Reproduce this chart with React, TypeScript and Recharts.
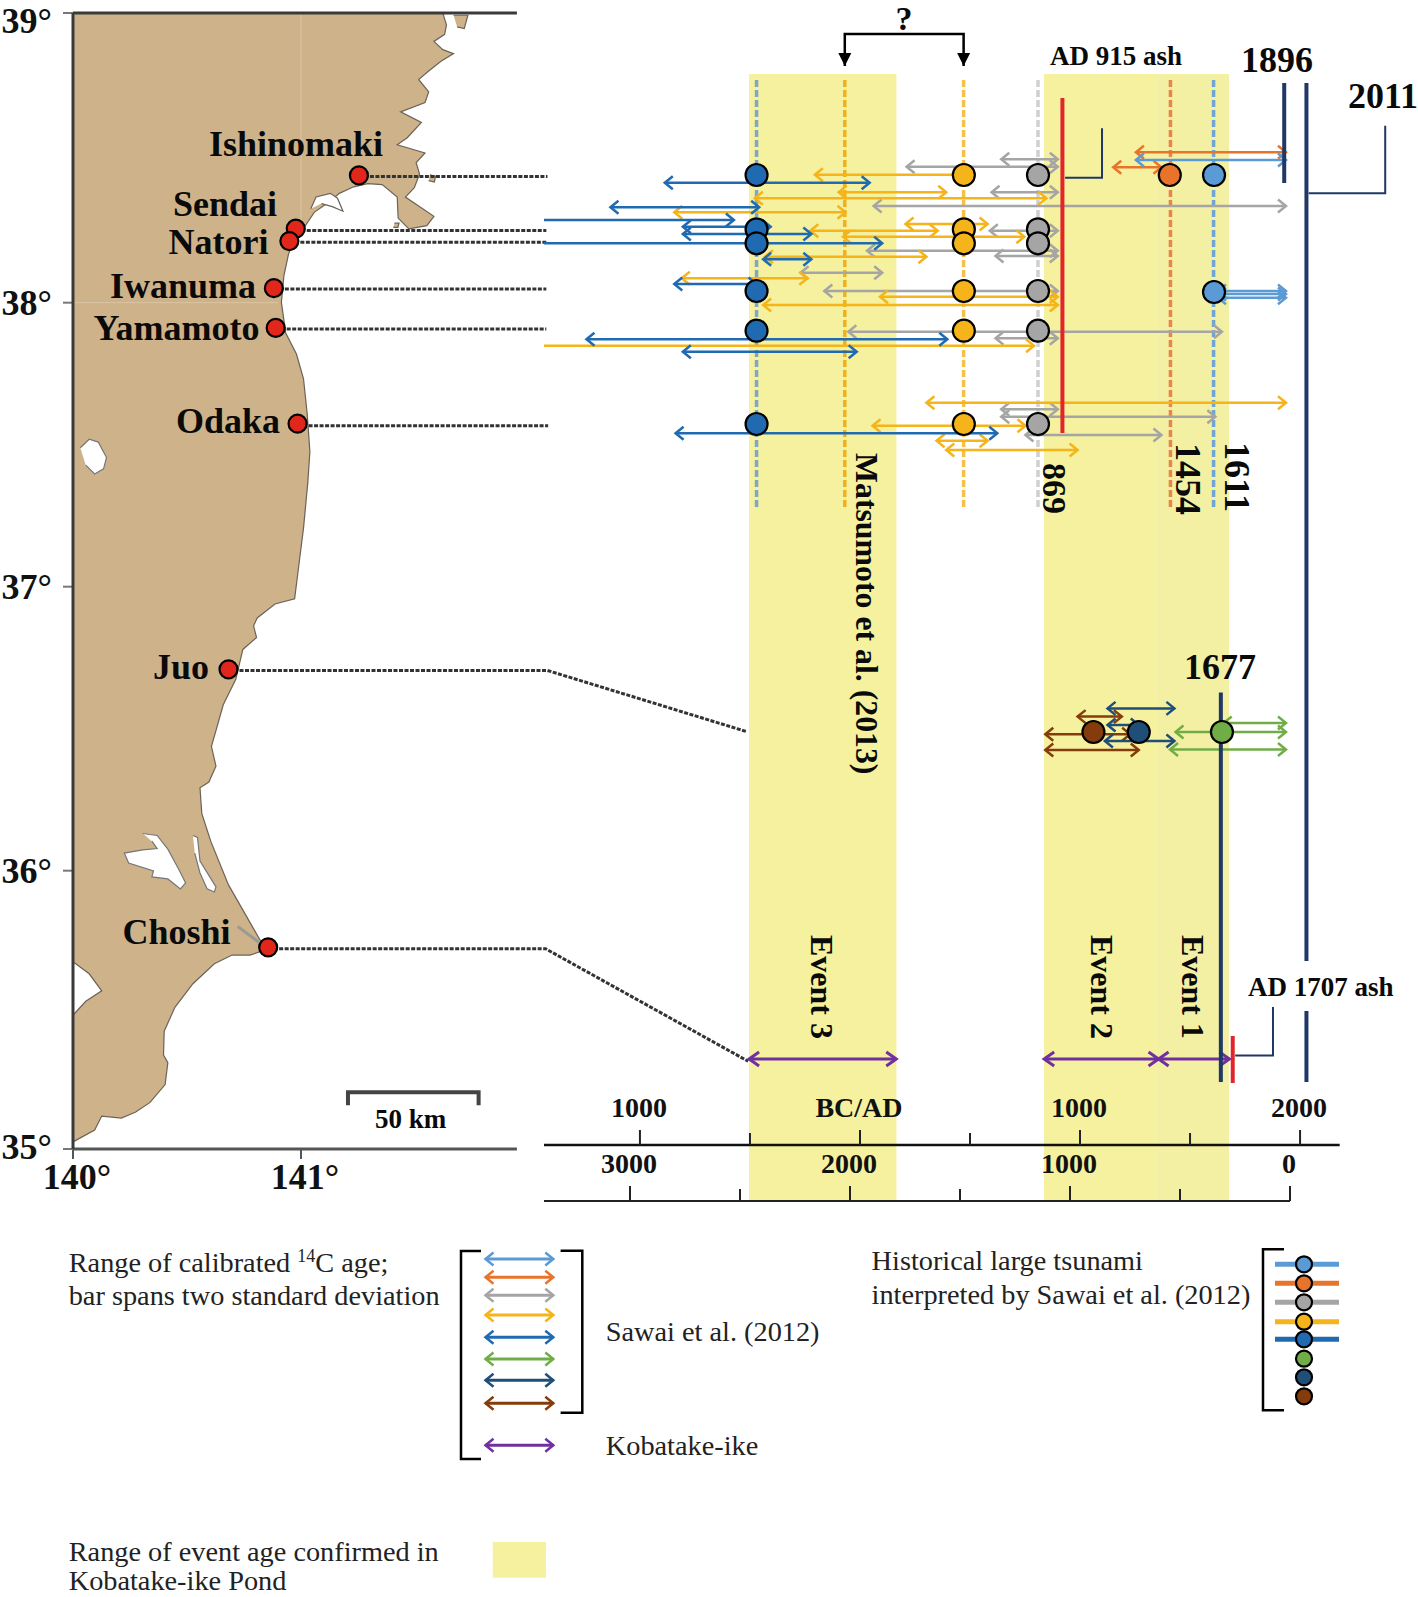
import { ReferenceArea, Scatter, ScatterChart, XAxis, YAxis } from "recharts";

// map outline, [lon, lat]
const coast = [
  [141.622, 39], [141.638, 38.958], [141.63, 38.925], [141.583, 38.9], [141.622, 38.871], [141.669, 38.857],
  [141.614, 38.83], [141.56, 38.796], [141.516, 38.766], [141.56, 38.722], [141.544, 38.685], [141.437, 38.652],
  [141.528, 38.615], [141.466, 38.561], [141.422, 38.536], [141.544, 38.507], [141.505, 38.473], [141.52, 38.433],
  [141.497, 38.385], [141.458, 38.352], [141.583, 38.284], [141.552, 38.251], [141.473, 38.24], [141.426, 38.278],
  [141.422, 38.352], [141.356, 38.396], [141.293, 38.399], [141.231, 38.388], [141.168, 38.365], [141.129, 38.338],
  [141.058, 38.298], [141.019, 38.251], [140.972, 38.21], [140.945, 38.15], [140.925, 38.075], [140.914, 37.981],
  [140.933, 37.873], [140.98, 37.799], [141.011, 37.712], [141.027, 37.59], [141.039, 37.456], [141.03, 37.348],
  [141.011, 37.186], [140.992, 37.065], [140.972, 36.937], [140.886, 36.919], [140.808, 36.87], [140.792, 36.842],
  [140.805, 36.801], [140.745, 36.759], [140.714, 36.654], [140.659, 36.564], [140.627, 36.473], [140.607, 36.418],
  [140.627, 36.348], [140.596, 36.292], [140.557, 36.272], [140.565, 36.181], [140.604, 36.084], [140.682, 35.93],
  [140.761, 35.819], [140.831, 35.721], [140.847, 35.701], [140.776, 35.683], [140.698, 35.683], [140.62, 35.652],
  [140.526, 35.582], [140.447, 35.499], [140.4, 35.415], [140.397, 35.331], [140.416, 35.304], [140.404, 35.227],
  [140.338, 35.164], [140.275, 35.13], [140.212, 35.109], [140.126, 35.116], [140.095, 35.067], [140, 35.025],
  [140, 39],
];
const northIsland = [[141.669, 38.992], [141.732, 38.992], [141.716, 38.945], [141.685, 38.951]];
const oshikaIslet = [[141.565, 38.43], [141.59, 38.425], [141.585, 38.405], [141.56, 38.41]];
const bayIslet = [[141.41, 38.26], [141.43, 38.26], [141.425, 38.245], [141.405, 38.245]];
const tokyoBay = [[140, 35.659], [140.071, 35.617], [140.126, 35.557], [140.056, 35.52], [140, 35.471]];
const kasumigaura = [
  [140.306, 36.111], [140.369, 36.104], [140.416, 36.056], [140.463, 35.986], [140.494, 35.937], [140.471, 35.916],
  [140.416, 35.951], [140.346, 35.958], [140.353, 35.979], [140.244, 36.007], [140.225, 36.042], [140.306, 36.053],
  [140.369, 36.058], [140.346, 36.084],
];
const kitaura = [
  [140.526, 36.104], [140.546, 36.097], [140.557, 36.014], [140.627, 35.923], [140.62, 35.905], [140.588, 35.916],
  [140.557, 35.972], [140.534, 36.042],
];
const inawashiro = [
  [140.032, 37.469], [140.071, 37.499], [140.111, 37.489], [140.147, 37.435], [140.134, 37.395], [140.095, 37.377],
  [140.056, 37.408],
];
const matsushima = [
  [141.043, 38.311], [141.066, 38.352], [141.129, 38.365], [141.16, 38.348], [141.184, 38.302], [141.137, 38.318],
  [141.09, 38.329],
];
const choshiLagoon = [[140.722, 35.784], [140.815, 35.728]];
const scaleBar = [[141.206, 35.154], [141.206, 35.2], [141.779, 35.2], [141.779, 35.154]];
const lonTicks = [140, 141];
const latTicks = [35, 35.98, 36.98, 37.98, 39];

// sites on the map, [lon, lat]
const sites = [
  [141.254, 38.428], [140.977, 38.241], [140.949, 38.197], [140.881, 38.031],
  [140.889, 37.891], [140.985, 37.554], [140.682, 36.689], [140.856, 35.71],
];
const connectors = [
  [[141.254, 38.424], [142.081, 38.424]],
  [[140.977, 38.234], [142.076, 38.234]],
  [[140.949, 38.193], [142.076, 38.193]],
  [[140.881, 38.028], [142.076, 38.028]],
  [[140.889, 37.887], [142.076, 37.887]],
  [[140.985, 37.547], [142.084, 37.547]],
  [[140.682, 36.685], [142.081, 36.685], [142.957, 36.469]],
  [[140.856, 35.705], [142.073, 35.705], [142.961, 35.309]],
];

// age ranges, [from AD, to AD, track]. -1436 runs off the left edge of the panel
const blueRanges = [
  [-887, 44, 18.27], [-1134, -458, 20.73], [-1436, -573, 22], [-805, -406, 22.67], [-805, -221, 23.4],
  [-1436, 101, 24.33], [-440, -221, 25.93], [-844, -470, 28.4], [-1243, 397, 33.93], [-805, -15, 35.17],
  [-838, 624, 43.33],
];
const amberRanges = [
  [-205, 472, 17.47], [-97, 392, 19.23], [-478, 847, 19.83], [-844, -66, 21.23], [207, 580, 22.4],
  [-226, 353, 23.07], [-77, 747, 23.67], [-432, 302, 25.67], [-810, -239, 27.83], [91, 899, 29.67],
  [-440, 899, 30.5], [-1436, 791, 34.57], [302, 1936, 40.27], [57, 752, 42.57], [348, 580, 44.07], [392, 989, 45],
];
const greyRanges = [
  [642, 899, 15.93], [212, 899, 16.67], [598, 899, 19.23], [62, 1936, 20.6], [590, 899, 23.07],
  [32, 899, 25.07], [616, 899, 25.6], [-270, 101, 27.27], [-162, 899, 29.1], [-53, 1645, 33.17],
  [616, 899, 33.83], [642, 899, 40.93], [642, 1615, 41.67], [752, 1370, 43.5],
];
const orangeRanges = [[1254, 1936, 15.23], [1151, 1370, 16.73]];
const paleBlueRanges = [[1254, 1936, 16], [1627, 1936, 29.1], [1627, 1936, 29.4], [1627, 1936, 29.77]];
const navyRanges = [[1125, 1429, 70.84], [1125, 1267, 72.5], [1113, 1429, 74.1]];
const brownRanges = [[989, 1190, 71.66], [842, 1228, 73.43], [842, 1267, 75]];
const greenRanges = [[1653, 1936, 72.3], [1434, 1936, 73.2], [1409, 1936, 74.95]];
const kobatakeRanges = [[-504, 165, 105.9], [837, 1357, 105.9], [1357, 1679, 105.9]];

// tsunami deposits, one year per column
const siteTracks = [17.5, 22.93, 24.33, 29.1, 33.07, 42.4];
const blueYear = -470;
const amberYear = 472;
const greyYear = 809;
const orangeDots = [[1408, 17.5]];
const paleBlueDots = [[1609, 17.5], [1609, 29.2]];
const juoDots = [[1061, 73.2], [1267, 73.2], [1645, 73.2]];

// columns and event lines
const dashYears = [-470, -69, 471, 809, 1411, 1607];
const dashTracks = [8, 50.7];
const redLine915 = [[920, 9.8], [920, 43.3]];
const line1896 = [[1928, 8.3], [1928, 18.3]];
const line2011Top = [[2029, 8.3], [2029, 96.1]];
const line2011Bottom = [[2029, 101.1], [2029, 108.2]];
const line1677 = [[1640, 69.25], [1640, 108.2]];
const redLine1707 = [[1694, 103.6], [1694, 108.3]];
const leader915 = [[932, 17.77], [1100, 17.77], [1100, 12.83]];
const leader2011 = [[2039, 19.33], [2387, 19.33], [2387, 12.57]];
const leader1707 = [[1705, 105.55], [1877, 105.55], [1877, 100.7]];
const bracket = [[-69, 6.6], [-69, 3.4], [471, 3.4], [471, 6.6]];
const adAxisLine = [[-1436, 114.5], [2180, 114.5]];

// axes
const adTicks = [-1000, -500, 0, 500, 1000, 1500, 2000];
const adLabels = { [-1000]: "1000", 0: "BC/AD", 1000: "1000", 2000: "2000" };
const bpTicks = [0, 500, 1000, 1500, 2000, 2500, 3000];
const bpLabels = { 0: "0", 1000: "1000", 2000: "2000", 3000: "3000" };
const eventBands = [[2459, 1789], [1118, 605], [605, 277]];

// legend
const legendArrowSpan = [485.5, 553.3];
const legendArrowRows = [1259, 1277.3, 1295.3, 1315, 1337.3, 1359, 1380.3, 1403.3, 1445.3];
const legendDotRows = [1264.3, 1283.3, 1302.3, 1321.7, 1339.3, 1358.7, 1377.3, 1396.3];
const legendBarSpan = [1275, 1339];
const legendDotX = 1304;
const bracketLeft = [[481, 1251], [461, 1251], [461, 1459], [481, 1459]];
const bracketRight = [[560.6, 1250.7], [582.3, 1250.7], [582.3, 1412.7], [560.6, 1412.7]];
const bracketDots = [[1284, 1249.3], [1263, 1249.3], [1263, 1410.3], [1284, 1410.3]];

const PALE_BLUE = "#5b9bd5";
const ORANGE = "#e8742c";
const GREY = "#a5a5a5";
const AMBER = "#f4b41a";
const BLUE = "#1f6ab0";
const GREEN = "#70ad47";
const NAVY = "#1f4e79";
const BROWN = "#843c0c";
const PURPLE = "#7030a0";
const DARK = "#1f3864";
const RED = "#e0262a";
const LAND = "#cdb28a";
const SHORE = "#6b6358";
const DASH_COLORS = ["#7fa6c6", "#f0b020", "#f6c04a", "#d0d0d0", "#e8854a", "#6ea5d3"];
const LEGEND_ARROWS = [PALE_BLUE, ORANGE, GREY, AMBER, BLUE, GREEN, NAVY, BROWN, PURPLE];
const SERIF = "'Liberation Serif', serif";

const noMark = () => <g />;

function polyline(key: string, points: object[], stroke: string, width: number, dash?: string) {
  return (
    <Scatter
      key={key}
      data={points}
      line={{ stroke, strokeWidth: width, strokeDasharray: dash }}
      shape={noMark}
      isAnimationActive={false}
    />
  );
}

const toYear = (pts: number[][]) => pts.map(([yr, row]) => ({ yr, row }));
const toMap = (pts: number[][]) => pts.map(([lon, lat]) => ({ lon, lat }));
const toLegend = (pts: number[][]) => pts.map(([lx, ly]) => ({ lx, ly }));

function filled(key: string, pts: number[][], fill: string, stroke: string) {
  return (
    <Scatter
      key={key}
      data={toMap(pts)}
      line={{ fill, stroke, strokeWidth: 1.2 }}
      shape={noMark}
      isAnimationActive={false}
    />
  );
}

const chevron = (stroke: string, width = 2.5, len = 8, half = 6.5) => (p: any) => {
  const dir = p.payload.dir;
  if (p.payload.open) return <g />;
  const { cx, cy } = p;
  return (
    <path
      d={`M${cx - dir * len} ${cy - half}L${cx} ${cy}L${cx - dir * len} ${cy + half}`}
      fill="none"
      stroke={stroke}
      strokeWidth={width}
    />
  );
};

function rangeArrows(name: string, ranges: number[][], color: string, width = 2.5, len = 8, half = 6.5) {
  return ranges.map(([from, to, row], i) => (
    <Scatter
      key={`${name}${i}`}
      data={[
        { yr: from, row, dir: -1, open: from <= -1436 },
        { yr: to, row, dir: 1 },
      ]}
      line={{ stroke: color, strokeWidth: width }}
      shape={chevron(color, width, len, half)}
      isAnimationActive={false}
    />
  ));
}

const dot = (fill: string, r = 11) => (p: any) => <circle cx={p.cx} cy={p.cy} r={r} fill={fill} stroke="#000" strokeWidth={2.2} />;

function dots(key: string, pts: number[][], color: string) {
  return <Scatter key={key} data={toYear(pts)} shape={dot(color)} isAnimationActive={false} />;
}

const bracketTip = (p: any) => {
  if (p.payload.row !== bracket[0][1]) return <g />;
  const { cx, cy } = p;
  return <path d={`M${cx} ${cy}L${cx - 6.5} ${cy - 13}L${cx + 6.5} ${cy - 13}Z`} fill="#000" />;
};

const axisTick = (labels: Record<number, string>) => (p: any) => {
  const label = labels[p.payload.value];
  return (
    <g>
      <line x1={p.x} x2={p.x} y1={p.y} y2={p.y - (label ? 15 : 12)} stroke="#222" strokeWidth={2} />
      {label && (
        <text x={p.x - 1} y={p.y - 28} textAnchor="middle" fontFamily={SERIF} fontWeight="bold" fontSize={28} fill="#111">
          {label}
        </text>
      )}
    </g>
  );
};

const latTick = (p: any) => {
  const deg = Math.round(p.payload.value);
  const drop = deg === 39 ? 20 : deg === 35 ? 10 : 12;
  return (
    <text x={p.x} y={p.y + drop} textAnchor="end" fontFamily={SERIF} fontWeight="bold" fontSize={36} fill="#111">
      {deg}°
    </text>
  );
};

const lonTick = (p: any) => (
  <text x={p.x + 4} y={p.y + 27} textAnchor="middle" fontFamily={SERIF} fontWeight="bold" fontSize={36} fill="#111">
    {p.payload.value}°
  </text>
);

function Txt({ x, y, size = 28.3, bold = true, rot = false, anchor = "start", children }: any) {
  return (
    <text
      transform={`translate(${x} ${y})${rot ? " rotate(90)" : ""}`}
      textAnchor={anchor}
      fontFamily={SERIF}
      fontWeight={bold ? "bold" : "normal"}
      fontSize={size}
      fill={bold ? "#0a0a0a" : "#222"}
    >
      {children}
    </text>
  );
}

const box = (left: number, top: number) => ({ position: "absolute" as const, left, top });

function MapPanel() {
  return (
    <div style={box(0, 0)}>
      <ScatterChart width={757} height={1200} margin={{ top: 13, right: 0, bottom: 0, left: 0 }}>
        <XAxis
          type="number"
          dataKey="lon"
          domain={[140, 143]}
          ticks={lonTicks}
          interval={0}
          height={51}
          tickSize={10}
          tickMargin={3}
          axisLine={false}
          tickLine={{ stroke: "#555", strokeWidth: 2 }}
          tick={lonTick}
        />
        <YAxis
          type="number"
          dataKey="lat"
          domain={[35, 39]}
          ticks={latTicks}
          interval={0}
          width={73}
          tickSize={10}
          tickMargin={11}
          axisLine={false}
          tickLine={{ stroke: "#777", strokeWidth: 2 }}
          tick={latTick}
        />
        {filled("land", coast, LAND, SHORE)}
        {filled("north", northIsland, LAND, SHORE)}
        {filled("oshika", oshikaIslet, LAND, SHORE)}
        {filled("bayIslet", bayIslet, LAND, SHORE)}
        {filled("tokyo", tokyoBay, "#fff", SHORE)}
        {filled("kasumi", kasumigaura, "#fff", "#777")}
        {filled("kita", kitaura, "#fff", "#777")}
        {filled("inawashiro", inawashiro, "#fff", "#777")}
        {filled("matsushima", matsushima, "#fff", SHORE)}
        {polyline("lagoon", toMap(choshiLagoon), "#9a9a92", 3)}
        {polyline("grid141", toMap([[141, 39], [141, 38.25]]), "#d9c4a4", 1)}
        {polyline("grid38", toMap([[140, 37.98], [140.9, 37.98]]), "#d9c4a4", 1)}
        {polyline("top", toMap([[140, 39], [141.947, 39]]), "#3a3a3a", 3)}
        {polyline("bottom", toMap([[140, 35], [141.947, 35]]), "#555", 3)}
        {polyline("left", toMap([[140, 35], [140, 39]]), "#3a3a3a", 3)}
        {polyline("scale", toMap(scaleBar), "#444", 4)}
        {connectors.map((c, i) => polyline(`conn${i}`, toMap(c), "#333", 3, "4 1.5"))}
        <Scatter data={toMap(sites)} shape={dot("#e1261c", 9)} isAnimationActive={false} />
      </ScatterChart>
    </div>
  );
}

function AgeBands() {
  return (
    <div style={box(544, 0)}>
      <ScatterChart width={766} height={1203} margin={{ top: 74, right: 20, bottom: 2, left: 0 }}>
        <XAxis
          type="number"
          dataKey="bp"
          reversed
          mirror
          domain={[0, 3391]}
          ticks={bpTicks}
          interval={0}
          tickSize={0}
          tickMargin={0}
          tickLine={false}
          axisLine={{ stroke: "#222", strokeWidth: 2 }}
          tick={axisTick(bpLabels)}
        />
        <YAxis type="number" dataKey="row" hide domain={[0, 1]} />
        {eventBands.map(([a, b], i) => (
          <ReferenceArea key={i} x1={a} x2={b} fill={i === 2 ? "#f4f0a3" : "#f5f19e"} fillOpacity={1} stroke="none" />
        ))}
        <Scatter data={[{ bp: 0, row: 0 }]} shape={noMark} isAnimationActive={false} />
      </ScatterChart>
    </div>
  );
}

function TimelinePanel() {
  return (
    <div style={box(544, 0)}>
      <ScatterChart width={874} height={1147} margin={{ top: 0, right: 0, bottom: 2, left: 0 }}>
        <XAxis
          type="number"
          dataKey="yr"
          mirror
          domain={[-1436, 2536]}
          ticks={adTicks}
          interval={0}
          tickSize={0}
          tickMargin={0}
          tickLine={false}
          axisLine={false}
          tick={axisTick(adLabels)}
        />
        <YAxis type="number" dataKey="row" hide reversed domain={[0, 114.5]} />
        {dashYears.map((yr, i) =>
          polyline(`dash${i}`, dashTracks.map((row) => ({ yr, row })), DASH_COLORS[i], 3.5, "7 3")
        )}
        {polyline("adAxis", toYear(adAxisLine), "#111", 2.5)}
        {polyline("leader915", toYear(leader915), DARK, 2)}
        {polyline("leader2011", toYear(leader2011), DARK, 2)}
        {polyline("leader1707", toYear(leader1707), DARK, 2)}
        {rangeArrows("grey", greyRanges, GREY)}
        {rangeArrows("amber", amberRanges, AMBER)}
        {rangeArrows("blue", blueRanges, BLUE)}
        {rangeArrows("orange", orangeRanges, ORANGE)}
        {rangeArrows("pale", paleBlueRanges, PALE_BLUE)}
        {rangeArrows("brown", brownRanges, BROWN)}
        {rangeArrows("navy", navyRanges, NAVY)}
        {rangeArrows("green", greenRanges, GREEN)}
        {rangeArrows("kobatake", kobatakeRanges, PURPLE, 3, 10, 7)}
        {polyline("red915", toYear(redLine915), RED, 4)}
        {polyline("l1896", toYear(line1896), DARK, 4)}
        {polyline("l2011a", toYear(line2011Top), DARK, 4)}
        {polyline("l2011b", toYear(line2011Bottom), DARK, 4)}
        {polyline("l1677", toYear(line1677), DARK, 4)}
        {polyline("red1707", toYear(redLine1707), RED, 4)}
        <Scatter
          data={toYear(bracket)}
          line={{ stroke: "#000", strokeWidth: 2.5 }}
          shape={bracketTip}
          isAnimationActive={false}
        />
        {dots("blueDots", siteTracks.map((t) => [blueYear, t]), BLUE)}
        {dots("amberDots", siteTracks.map((t) => [amberYear, t]), AMBER)}
        {dots("greyDots", siteTracks.map((t) => [greyYear, t]), GREY)}
        {dots("orangeDots", orangeDots, ORANGE)}
        {dots("paleDots", paleBlueDots, PALE_BLUE)}
        {dots("brownDot", [juoDots[0]], BROWN)}
        {dots("navyDot", [juoDots[1]], NAVY)}
        {dots("greenDot", [juoDots[2]], GREEN)}
      </ScatterChart>
    </div>
  );
}

function LegendPanel() {
  const dotColors = LEGEND_ARROWS.slice(0, 8);
  return (
    <div style={box(0, 1220)}>
      <ScatterChart width={1418} height={377} margin={{ top: 0, right: 0, bottom: 0, left: 0 }}>
        <XAxis type="number" dataKey="lx" hide domain={[0, 1418]} />
        <YAxis type="number" dataKey="ly" hide reversed domain={[1220, 1597]} />
        <ReferenceArea x1={492.8} x2={546} y1={1542} y2={1577.7} fill="#f5f19e" fillOpacity={1} stroke="none" />
        {polyline("bl", toLegend(bracketLeft), "#000", 2.5)}
        {polyline("br", toLegend(bracketRight), "#000", 2.5)}
        {polyline("bd", toLegend(bracketDots), "#000", 2.5)}
        {legendArrowRows.map((ly, i) => (
          <Scatter
            key={`la${i}`}
            data={[
              { lx: legendArrowSpan[0], ly, dir: -1 },
              { lx: legendArrowSpan[1], ly, dir: 1 },
            ]}
            line={{ stroke: LEGEND_ARROWS[i], strokeWidth: 3 }}
            shape={chevron(LEGEND_ARROWS[i], 2.5)}
            isAnimationActive={false}
          />
        ))}
        {legendDotRows.slice(0, 5).map((ly, i) =>
          polyline(`lb${i}`, legendBarSpan.map((lx) => ({ lx, ly })), dotColors[i], 5)
        )}
        {legendDotRows.map((ly, i) => (
          <Scatter key={`ld${i}`} data={[{ lx: legendDotX, ly }]} shape={dot(dotColors[i], 8)} isAnimationActive={false} />
        ))}
      </ScatterChart>
    </div>
  );
}

function Labels() {
  return (
    <svg width={1418} height={1597} style={{ ...box(0, 0), pointerEvents: "none" }}>
      <Txt x={209} y={156} size={36}>Ishinomaki</Txt>
      <Txt x={173} y={216} size={36}>Sendai</Txt>
      <Txt x={168.6} y={254} size={36}>Natori</Txt>
      <Txt x={110} y={298} size={36}>Iwanuma</Txt>
      <Txt x={93.6} y={340} size={36}>Yamamoto</Txt>
      <Txt x={176} y={433} size={36}>Odaka</Txt>
      <Txt x={153} y={679} size={36}>Juo</Txt>
      <Txt x={122.5} y={944} size={36}>Choshi</Txt>
      <Txt x={375} y={1128} size={27}>50 km</Txt>

      <Txt x={904} y={30} size={34} anchor="middle">?</Txt>
      <Txt x={1050} y={65} size={27}>AD 915 ash</Txt>
      <Txt x={1241} y={72} size={36}>1896</Txt>
      <Txt x={1348} y={108} size={36}>2011</Txt>
      <Txt x={1184} y={679} size={36}>1677</Txt>
      <Txt x={1248} y={996} size={27}>AD 1707 ash</Txt>

      <Txt x={856} y={453} size={31.8} rot>Matsumoto et al. (2013)</Txt>
      <Txt x={1042.5} y={463} size={34} rot>869</Txt>
      <Txt x={1175.5} y={443} size={36} rot>1454</Txt>
      <Txt x={1225} y={442} size={36} rot>1611</Txt>
      <Txt x={811.4} y={935} size={32} rot>Event 3</Txt>
      <Txt x={1090.6} y={935} size={32} rot>Event 2</Txt>
      <Txt x={1182.3} y={935} size={32} rot>Event 1</Txt>

      <Txt x={68.7} y={1271.7} bold={false}>
        Range of calibrated <tspan dy={-10} fontSize={18}>14</tspan><tspan dy={10}>C age;</tspan>
      </Txt>
      <Txt x={68.7} y={1305} bold={false}>bar spans two standard deviation</Txt>
      <Txt x={605.8} y={1340.7} bold={false}>Sawai et al. (2012)</Txt>
      <Txt x={605.8} y={1455} bold={false}>Kobatake-ike</Txt>
      <Txt x={871.6} y={1270} bold={false}>Historical large tsunami</Txt>
      <Txt x={871.6} y={1304} bold={false}>interpreted by Sawai et al. (2012)</Txt>
      <Txt x={68.7} y={1560.7} bold={false}>Range of event age confirmed in</Txt>
      <Txt x={68.7} y={1590} bold={false}>Kobatake-ike Pond</Txt>
    </svg>
  );
}

export default function App() {
  return (
    <div style={{ ...box(0, 0), width: 1418, height: 1597, background: "#fff", overflow: "hidden" }}>
      <MapPanel />
      <AgeBands />
      <TimelinePanel />
      <LegendPanel />
      <Labels />
    </div>
  );
}
